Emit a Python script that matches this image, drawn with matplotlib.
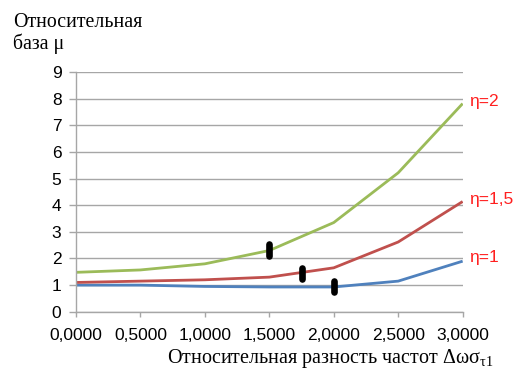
import numpy as np
import matplotlib.pyplot as plt

# Relative frequency difference (x) and relative base mu for each eta
x_vals = [0.0, 0.5, 1.0, 1.5, 2.0, 2.5, 3.0]
mu_eta_1 = [1.00, 1.00, 0.95, 0.93, 0.93, 1.15, 1.90]
mu_eta_15 = [1.10, 1.15, 1.20, 1.30, 1.65, 2.62, 4.14]
mu_eta_2 = [1.48, 1.57, 1.80, 2.30, 3.35, 5.22, 7.82]

# Boundary marks on each curve
mark_x = [1.5, 1.75, 2.0]
mark_y = [2.32, 1.45, 0.95]

x_ticks = [0.0, 0.5, 1.0, 1.5, 2.0, 2.5, 3.0]
x_tick_labels = ["0,0000", "0,5000", "1,0000", "1,5000", "2,0000", "2,5000", "3,0000"]
y_ticks = list(range(0, 10))

curve_labels = ["η=1", "η=1,5", "η=2"]

fig = plt.figure(figsize=(5.19, 3.72), dpi=100)
ax = fig.add_axes([0.1464, 0.162, 0.745, 0.644])

ax.plot(x_vals, mu_eta_1, color="#4F81BD", lw=2.0, solid_capstyle="butt")
ax.plot(x_vals, mu_eta_15, color="#C0504D", lw=2.0, solid_capstyle="butt")
ax.plot(x_vals, mu_eta_2, color="#9BBB59", lw=2.0, solid_capstyle="butt")

half = 0.21
marks = ax.vlines(mark_x, np.array(mark_y) - half, np.array(mark_y) + half,
                  colors="black", lw=4.8, zorder=5)
marks.set_capstyle("round")

ax.set_xlim(0, 3)
ax.set_ylim(0, 9)
ax.set_xticks(x_ticks)
ax.set_xticklabels(x_tick_labels)
ax.set_yticks(y_ticks)
ax.yaxis.grid(True, color="#A6A6A6", lw=1.0)
ax.set_axisbelow(True)

for side in ("top", "right"):
    ax.spines[side].set_visible(False)
for side in ("left", "bottom"):
    ax.spines[side].set_color("#A6A6A6")
    ax.spines[side].set_linewidth(1.0)

ax.tick_params(axis="both", colors="#A6A6A6", labelcolor="black",
               labelsize=12.5, width=1.0)
ax.tick_params(axis="x", length=3.6, pad=8.0)
ax.tick_params(axis="y", length=5.0, pad=5.5)
for lbl in ax.get_xticklabels() + ax.get_yticklabels():
    lbl.set_family("Liberation Sans")

# Curve names at the right end of each line
ends = [mu_eta_1[-1], mu_eta_15[-1], mu_eta_2[-1]]
offsets = [0.13, 0.06, 0.07]
for name, yv, dy in zip(curve_labels, ends, offsets):
    ax.text(3.05, yv + dy, name, color="#FF1F1F", fontsize=12.5,
            family="Liberation Sans", va="center", ha="left", clip_on=False)

fig.text(0.025, 0.965, "Относительная\nбаза μ", family="Liberation Serif",
         fontsize=14.3, va="top", ha="left", linespacing=1.12)
fig.text(0.95, 0.024, "Относительная разность частот Δωσ$_{\\mathregular{τ1}}$",
         family="Liberation Serif", fontsize=14.5, va="baseline", ha="right")

fig.savefig("out.png", dpi=100)
